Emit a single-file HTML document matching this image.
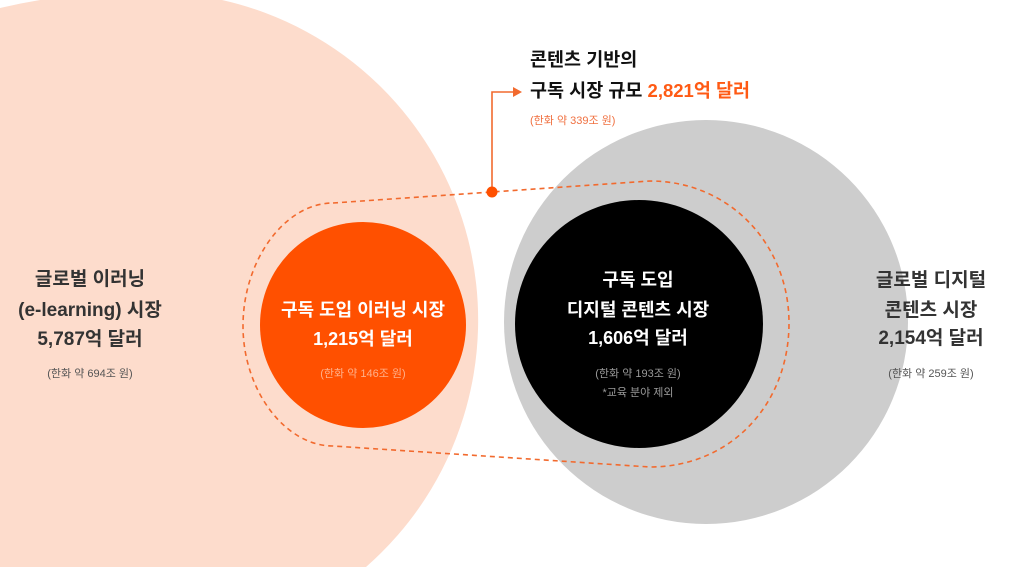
<!DOCTYPE html>
<html><head><meta charset="utf-8"><style>
html,body{margin:0;padding:0;background:#fff;overflow:hidden;width:1024px;height:567px;}
svg{display:block;}
text{font-family:"Liberation Sans","Noto Sans CJK KR",sans-serif;}
</style></head><body>
<svg width="1024" height="567" viewBox="0 0 1024 567" xmlns="http://www.w3.org/2000/svg">
<path d="M0,567 L0,8 Q110,-18 222,0 A328,328 0 0 1 366,567 Z" fill="#fddccc"/>
<circle cx="706" cy="322" r="202" fill="#cdcdcd"/>
<circle cx="363" cy="325" r="103" fill="#ff5000"/>
<circle cx="639" cy="324" r="124" fill="#000"/>
<path d="M333,203 L650,181 C730,181 789,245 789,323 C789,405 730,467 650,467 L333,446 C285,446 243,390 243,326 C243,260 285,203 333,203 Z" fill="none" stroke="#f26a2e" stroke-width="1.6" stroke-dasharray="5,4"/>
<path d="M492,192 L492,92 L514,92" fill="none" stroke="#f26a2e" stroke-width="1.6"/>
<path d="M513,87 L522,92 L513,97 Z" fill="#f26a2e"/>
<circle cx="492" cy="192" r="5.5" fill="#ff5000"/>

<g font-weight="bold" font-size="18.5" fill="#111">
<text x="530" y="66">콘텐츠 기반의</text>
<text x="530" y="97">구독 시장 규모 <tspan fill="#ff5a14">2,821억 달러</tspan></text>
</g>
<text x="530" y="124" font-size="11" fill="#f07040">(한화 약 339조 원)</text>

<g text-anchor="middle" font-weight="bold" font-size="19" fill="#333">
<text x="90" y="285">글로벌 이러닝</text>
<text x="90" y="316">(e-learning) 시장</text>
<text x="90" y="345">5,787억 달러</text>
<text x="931" y="286">글로벌 디지털</text>
<text x="931" y="316">콘텐츠 시장</text>
<text x="931" y="344">2,154억 달러</text>
</g>
<g text-anchor="middle" font-size="11" fill="#555">
<text x="90" y="377">(한화 약 694조 원)</text>
<text x="931" y="377">(한화 약 259조 원)</text>
</g>

<g text-anchor="middle" font-weight="bold" font-size="18" fill="#fff">
<text x="363" y="316">구독 도입 이러닝 시장</text>
<text x="363" y="345">1,215억 달러</text>
<text x="638" y="286">구독 도입</text>
<text x="638" y="316">디지털 콘텐츠 시장</text>
<text x="638" y="344">1,606억 달러</text>
</g>
<text x="363" y="377" text-anchor="middle" font-size="11" fill="#ffb08a">(한화 약 146조 원)</text>
<g text-anchor="middle" font-size="11" fill="#9a9a9a">
<text x="638" y="377">(한화 약 193조 원)</text>
<text x="638" y="396">*교육 분야 제외</text>
</g>
</svg>
</body></html>
